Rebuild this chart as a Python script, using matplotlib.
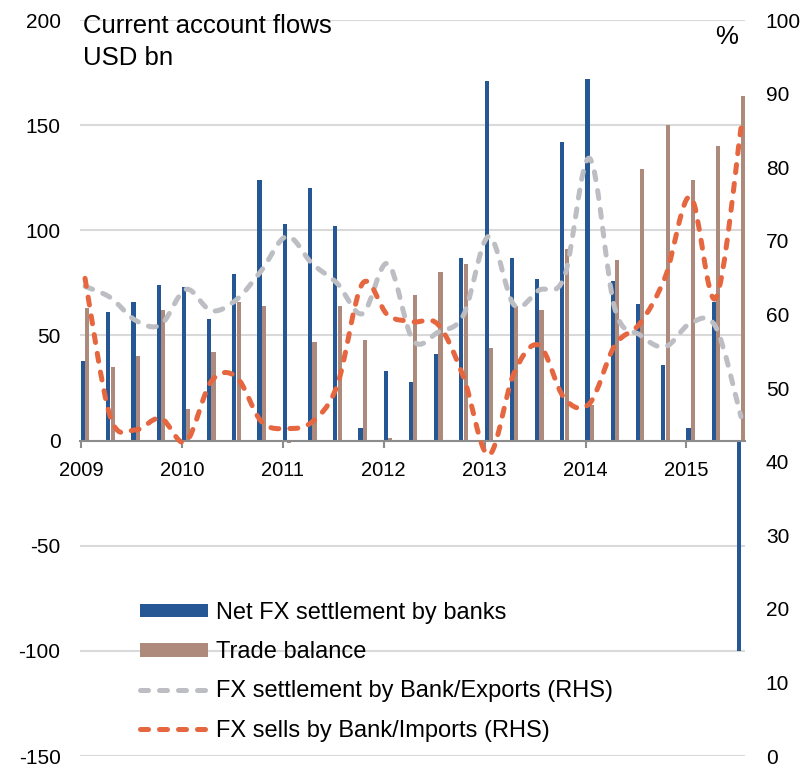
import matplotlib.pyplot as plt
from matplotlib.path import Path
from matplotlib.patches import PathPatch, Patch
from matplotlib.lines import Line2D
import numpy as np

plt.rcParams['font.family'] = ['Liberation Sans', 'DejaVu Sans']
plt.rcParams['axes.unicode_minus'] = False

# Quarterly data, 2009Q1 - 2015Q3
quarters = list(range(27))
years = ['2009', '2010', '2011', '2012', '2013', '2014', '2015']

net_fx_settlement = [38, 61, 66, 74, 73, 58, 79, 124, 103, 120, 102, 6, 33, 28, 41,
                     87, 171, 87, 77, 142, 172, 76, 65, 36, 6, 66, -100]
trade_balance = [63, 35, 40, 62, 15, 42, 66, 64, -1, 47, 64, 48, 1, 69, 80,
                 84, 44, 64, 62, 91, 17, 86, 129, 150, 124, 140, 164]
settle_exports = [63.8, 62.3, 59.2, 58.6, 63.4, 60.5, 62.0, 66.0, 70.6, 66.9, 64.2, 60.1,
                  66.9, 56.5, 57.6, 59.9, 70.6, 61.3, 63.3, 65.1, 81.2, 60.8, 57.2, 55.6,
                  58.8, 58.3, 46.1]
sells_imports = [64.9, 46.1, 44.3, 45.9, 42.7, 50.9, 51.5, 45.4, 44.5, 45.4, 50.4, 64.2,
                 59.9, 59.0, 58.6, 51.5, 40.9, 52.0, 55.8, 48.6, 47.9, 55.8, 58.8, 65.1,
                 76.0, 62.2, 85.3]

blue = '#245793'
brown = '#AD8A7C'
grey = '#BDBEC3'
orange = '#E5663F'
dash = (0, (1.6, 2.2))


def smooth_path(xs, ys):
    # Catmull-Rom style cubic segments through every point
    verts = [(xs[0], ys[0])]
    codes = [Path.MOVETO]
    n = len(xs)
    for i in range(n - 1):
        a = i - 1 if i > 0 else i
        d = i + 2 if i + 2 < n else i + 1
        c1 = (xs[i] + (xs[i + 1] - xs[a]) / 6, ys[i] + (ys[i + 1] - ys[a]) / 6)
        c2 = (xs[i + 1] - (xs[d] - xs[i]) / 6, ys[i + 1] - (ys[d] - ys[i]) / 6)
        verts += [c1, c2, (xs[i + 1], ys[i + 1])]
        codes += [Path.CURVE4] * 3
    return Path(verts, codes)


fig = plt.figure(figsize=(8.08, 7.67), dpi=100)
W, H = 808, 767
ax = fig.add_axes([80 / W, 1 - 756 / H, (745 - 80) / W, (756 - 20) / H])

x = np.array(quarters, dtype=float)
bw = 0.165
ax.bar(x - bw / 2, net_fx_settlement, width=bw, color=blue, zorder=2)
ax.bar(x + bw / 2 + 0.01, trade_balance, width=bw, color=brown, zorder=2)

ax.set_xlim(-0.2, 26.16)
ax.set_ylim(-150, 200)
ax.set_yticks(range(-150, 201, 50))
ax.yaxis.grid(True, color='#D9D9D9', linewidth=1.5, zorder=0)
ax.set_axisbelow(True)
ax.tick_params(axis='y', length=0, labelsize=15, pad=14, colors='black')

for s in ['top', 'left', 'right']:
    ax.spines[s].set_visible(False)
ax.spines['bottom'].set_position(('data', 0))
ax.spines['bottom'].set_color('#8C8C8C')
ax.spines['bottom'].set_linewidth(1.5)
ax.spines['bottom'].set_zorder(3)
ax.set_xticks([4 * k - 0.16 for k in range(len(years))])
ax.set_xticklabels(years)
ax.tick_params(axis='x', direction='out', length=5, width=1.5, color='#8C8C8C',
               labelsize=14.5, pad=10)

ax2 = ax.twinx()
ax2.set_ylim(0, 100)
ax2.set_yticks(range(0, 101, 10))
for s in ax2.spines.values():
    s.set_visible(False)
ax2.tick_params(axis='y', length=0, labelsize=15, pad=15)

for series, col in [(settle_exports, grey), (sells_imports, orange)]:
    patch = PathPatch(smooth_path(list(x), series), facecolor='none', edgecolor=col,
                      linewidth=3.6, linestyle=dash, capstyle='round', zorder=4)
    ax2.add_patch(patch)

fig.text(83 / W, 1 - 33 / H, 'Current account flows', fontsize=18.5,
         va='baseline', ha='left')
fig.text(83 / W, 1 - 65 / H, 'USD bn', fontsize=18.5, va='baseline', ha='left')
fig.text(727 / W, 1 - 44 / H, '%', fontsize=18.5, va='baseline', ha='center')

handles = [
    Patch(facecolor=blue),
    Patch(facecolor=brown),
    Line2D([], [], color=grey, linewidth=3.6, linestyle=dash, dash_capstyle='round'),
    Line2D([], [], color=orange, linewidth=3.6, linestyle=dash, dash_capstyle='round'),
]
labels = ['Net FX settlement by banks', 'Trade balance',
          'FX settlement by Bank/Exports (RHS)', 'FX sells by Bank/Imports (RHS)']
leg = ax2.legend(handles, labels, loc='upper left',
                 bbox_to_anchor=(140 / W, 1 - 602 / H), bbox_transform=fig.transFigure,
                 frameon=False, fontsize=17, handlelength=2.9, handleheight=0.5,
                 handletextpad=0.3, labelspacing=0.73, borderpad=0, borderaxespad=0)

fig.savefig('out.png', dpi=100)
